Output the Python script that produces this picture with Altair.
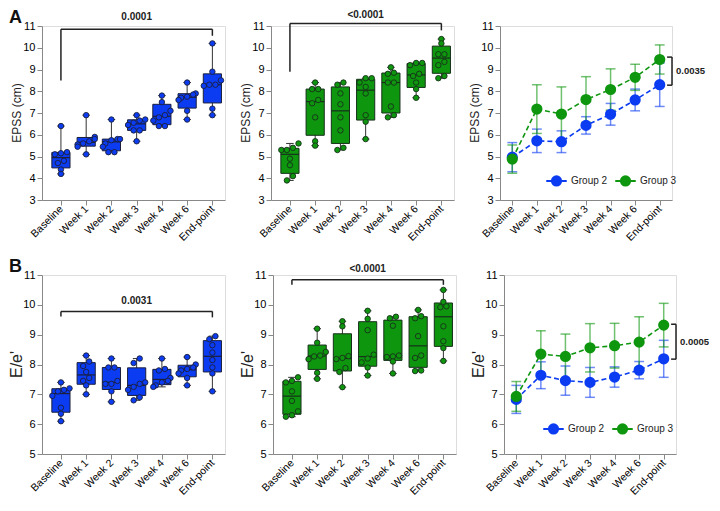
import json
import altair as alt
import numpy as np
import pandas as pd

cats = ["Baseline", "Week 1", "Week 2", "Week 3", "Week 4", "Week 6", "End-point"]

epss_g2 = [
    [6.4, 5.2, 5.15, 5.1, 4.8, 4.7, 4.4, 4.2],
    [6.9, 5.9, 5.8, 5.7, 5.6, 5.55, 5.45, 5.1],
    [6.7, 5.8, 5.8, 5.75, 5.6, 5.45, 5.2, 5.2],
    [6.9, 6.7, 6.65, 6.55, 6.45, 6.2, 6.2, 5.7],
    [7.8, 7.5, 7.1, 6.9, 6.8, 6.65, 6.4, 6.4],
    [8.4, 7.9, 7.85, 7.75, 7.7, 7.6, 7.1, 6.7],
    [10.2, 8.9, 8.5, 8.3, 8.3, 8.25, 7.2, 6.9],
]
epss_g3 = [
    [5.6, 5.4, 5.3, 5.3, 4.9, 4.6, 4.1, 3.9],
    [8.4, 8.1, 8.1, 7.6, 7.45, 6.8, 5.7, 5.5],
    [8.4, 8.3, 7.9, 7.4, 6.8, 6.2, 5.4, 5.3],
    [8.6, 8.6, 8.4, 8.2, 7.9, 6.9, 6.6, 5.8],
    [9.1, 8.85, 8.8, 8.4, 8.4, 7.3, 6.9, 6.8],
    [9.3, 9.3, 9.2, 8.8, 8.7, 8.4, 8.1, 7.7],
    [10.4, 10.2, 9.7, 9.7, 9.35, 9.2, 8.7, 8.6],
]
ee_g2 = [
    [7.4, 7.2, 7.15, 7.1, 6.95, 6.55, 6.35, 6.1],
    [8.3, 8.1, 7.95, 7.75, 7.55, 7.45, 7.3, 7.0],
    [8.2, 7.9, 7.9, 7.45, 7.35, 7.35, 7.1, 6.75],
    [8.2, 8.05, 7.4, 7.35, 7.25, 7.15, 6.9, 6.8],
    [8.2, 7.85, 7.8, 7.55, 7.45, 7.4, 7.3, 7.25],
    [8.25, 8.0, 7.9, 7.85, 7.8, 7.7, 7.55, 7.3],
    [8.95, 8.85, 8.65, 8.4, 8.15, 7.9, 7.7, 7.1],
]
ee_g3 = [
    [7.57, 7.45, 7.4, 7.1, 6.78, 6.43, 6.3, 6.25],
    [9.2, 8.73, 8.42, 8.3, 8.27, 8.18, 7.72, 7.52],
    [9.45, 9.28, 8.28, 8.22, 8.18, 7.88, 7.75, 7.24],
    [9.8, 9.53, 9.15, 8.33, 8.2, 8.07, 7.9, 7.63],
    [9.6, 9.55, 9.3, 8.3, 8.27, 8.25, 8.1, 7.7],
    [9.83, 9.62, 9.55, 8.95, 8.3, 8.22, 7.8, 7.78],
    [10.5, 10.1, 9.95, 9.92, 9.28, 8.78, 8.55, 8.12],
]

epss_g2_mean = [4.97, 5.72, 5.68, 6.43, 6.94, 7.60, 8.30]
epss_g2_sd = [0.67, 0.54, 0.50, 0.40, 0.50, 0.50, 1.00]
epss_g3_mean = [4.88, 7.18, 6.95, 7.62, 8.08, 8.64, 9.46]
epss_g3_sd = [0.65, 1.12, 1.25, 1.05, 0.95, 0.60, 0.67]
ee_g2_mean = [6.83, 7.64, 7.46, 7.40, 7.58, 7.81, 8.19]
ee_g2_sd = [0.47, 0.45, 0.49, 0.50, 0.34, 0.29, 0.62]
ee_g3_mean = [6.93, 8.35, 8.27, 8.56, 8.63, 8.75, 9.32]
ee_g3_sd = [0.50, 0.78, 0.75, 0.81, 0.75, 0.85, 0.73]

group_names = ["Group 2", "Group 3"]

brk_epss_g2 = ["0.0001", 10.85, 8.5, 10.55, 11.4]
brk_epss_g3 = ["<0.0001", 11.12, 8.9, 10.8, 11.5]
brk_ee_g2 = ["0.0031", 9.78, 9.61, 9.58, 10.13]
brk_ee_g3 = ["<0.0001", 10.84, 10.67, 10.67, 11.2]
brk_epss_line = ["0.0035", 9.57, 8.28]
brk_ee_line = ["0.0005", 9.35, 8.18]

BLUE = "#0b3cf2"
GREEN = "#0f960f"
DARK = "#1b1f3a"
DARKG = "#16301a"
AX = "#222222"
FONT = "Liberation Sans"

label_expr = json.dumps(cats) + "[datum.value]"


def jitter(vals, tol, step=0.24):
    vals = np.asarray(vals, dtype=float)
    order = np.argsort(vals)
    offs = np.zeros(len(vals))
    clusters, cur = [], [order[0]]
    for i in order[1:]:
        if vals[i] - vals[cur[-1]] < tol:
            cur.append(i)
        else:
            clusters.append(cur)
            cur = [i]
    clusters.append(cur)
    for c in clusters:
        k = len(c)
        for j, i in enumerate(c):
            offs[i] = (j - (k - 1) / 2) * step
    return np.clip(offs, -0.34, 0.34)


def axes(xdom, ydom):
    xs = alt.Scale(domain=xdom, nice=False, zero=False)
    ys = alt.Scale(domain=ydom, nice=False, zero=False)
    xa = alt.Axis(values=list(range(7)), labelExpr=label_expr, labelAngle=-45,
                  labelAlign="right", labelBaseline="middle", labelPadding=2,
                  labelOverlap=False, labelFontSize=10.5, title=None, grid=False,
                  minExtent=0)
    ya = alt.Axis(values=list(range(ydom[0], ydom[1] + 1)), format="d", grid=False,
                  labelFontSize=11, labelPadding=2, minExtent=0, title=None)
    X = lambda f: alt.X(f, type="quantitative", scale=xs, axis=xa)
    Y = lambda f: alt.Y(f, type="quantitative", scale=ys, axis=ya)
    return X, Y


def ytitle_layer(text, size, h):
    return alt.Chart(pd.DataFrame({"t": [text]})).mark_text(
        font=FONT, fontSize=size, color=AX, angle=270, align="center", baseline="middle"
    ).encode(x=alt.value(-25), y=alt.value(h / 2), text="t:N")


def box_panel(groups, fill, dark, ydom, ytitle, tsize, brk, letter, tol, w, h):
    X, Y = axes([-0.75, 6.5], ydom)
    rows = []
    for i, vals in enumerate(groups):
        offs = jitter(vals, tol)
        for v, o in zip(vals, offs):
            rows.append({"idx": i, "value": v, "off": float(o)})
    pts = pd.DataFrame(rows)
    st = []
    for i, vals in enumerate(groups):
        q1, med, q3 = np.percentile(vals, [25, 50, 75], method="weibull")
        st.append({"idx": i, "mn": min(vals), "mx": max(vals), "q1": q1, "med": med, "q3": q3})
    st = pd.DataFrame(st)
    base = alt.Chart(st).transform_calculate(
        lo="datum.idx - 0.36", hi="datum.idx + 0.36",
        clo="datum.idx - 0.15", chi="datum.idx + 0.15")
    whisk = base.mark_rule(color="#333333", strokeWidth=1).encode(x=X("idx"), y=Y("mn"), y2="mx")
    cap1 = base.mark_rule(color="#333333", strokeWidth=1).encode(x=X("clo"), x2="chi", y=Y("mn"))
    cap2 = base.mark_rule(color="#333333", strokeWidth=1).encode(x=X("clo"), x2="chi", y=Y("mx"))
    box = base.mark_rect(fill=fill, stroke=dark, strokeWidth=1).encode(x=X("lo"), x2="hi", y=Y("q1"), y2="q3")
    med = base.mark_rule(color=dark, strokeWidth=1.2).encode(x=X("lo"), x2="hi", y=Y("med"))
    dots = alt.Chart(pts).transform_calculate(xj="datum.idx + datum.off").mark_point(
        shape="circle", filled=True, fill=fill, stroke=dark, strokeWidth=0.9, size=30, opacity=1
    ).encode(x=X("xj"), y=Y("value"))
    bd = pd.DataFrame([{"x0": 0, "x1": 6, "xm": 3, "label": brk[0], "top": brk[1],
                        "lb": brk[2], "rb": brk[3], "ty": brk[4]}])
    bch = alt.Chart(bd)
    b1 = bch.mark_rule(color=AX, strokeWidth=1.5).encode(x=X("x0"), x2="x1", y=Y("top"))
    b2 = bch.mark_rule(color=AX, strokeWidth=1.5).encode(x=X("x0"), y=Y("lb"), y2="top")
    b3 = bch.mark_rule(color=AX, strokeWidth=1.5).encode(x=X("x1"), y=Y("rb"), y2="top")
    bt = bch.mark_text(font=FONT, fontSize=10, fontWeight="bold", color=AX).encode(
        x=X("xm"), y=Y("ty"), text="label:N")
    layers = [whisk, cap1, cap2, box, med, dots, b1, b2, b3, bt, ytitle_layer(ytitle, tsize, h)]
    if letter:
        lt = alt.Chart(pd.DataFrame({"t": [letter]})).mark_text(
            font=FONT, fontSize=18, fontWeight="bold", color="#111111", align="left", baseline="top"
        ).encode(x=alt.value(-33), y=alt.value(-17), text="t:N")
        layers.append(lt)
    return alt.layer(*layers).properties(width=w, height=h)


def line_panel(m2, s2, m3, s3, ydom, ytitle, tsize, brk, w, h, legx, legy):
    X, Y = axes([-0.5, 6.5], ydom)
    layers = []
    rows = []
    for name, m, s, col in [(group_names[0], m2, s2, BLUE), (group_names[1], m3, s3, GREEN)]:
        df = pd.DataFrame({"idx": list(range(7)), "mean": m, "sd": s})
        c = alt.Chart(df).transform_calculate(
            lo="datum.mean - datum.sd", hi="datum.mean + datum.sd",
            clo="datum.idx - 0.2", chi="datum.idx + 0.2")
        layers.append(c.mark_rule(color=col, strokeWidth=1.5, opacity=0.6).encode(x=X("idx"), y=Y("lo"), y2="hi"))
        layers.append(c.mark_rule(color=col, strokeWidth=1.5, opacity=0.6).encode(x=X("clo"), x2="chi", y=Y("lo")))
        layers.append(c.mark_rule(color=col, strokeWidth=1.5, opacity=0.6).encode(x=X("clo"), x2="chi", y=Y("hi")))
        layers.append(c.mark_line(color=col, strokeWidth=1.6, strokeDash=[5, 3]).encode(x=X("idx"), y=Y("mean")))
        for i in range(7):
            rows.append({"idx": i, "mean": m[i], "grp": name})
    pts = pd.DataFrame(rows)
    cs = alt.Scale(domain=group_names, range=[BLUE, GREEN])
    path = "M-1,0H-0.45M0.45,0H1M0.45,0A0.45,0.45,0,1,1,-0.45,0A0.45,0.45,0,1,1,0.45,0Z"
    leg = alt.Legend(orient="none", legendX=legx, legendY=legy, direction="horizontal", title=None,
                     symbolType=path, symbolSize=420, symbolStrokeWidth=2, labelFontSize=10,
                     labelFont=FONT, labelColor=AX, columnPadding=3, labelOffset=3)
    layers.append(alt.Chart(pts).mark_point(shape="circle", filled=True, size=85, opacity=1).encode(
        x=X("idx"), y=Y("mean"),
        fill=alt.Fill("grp:N", scale=cs, legend=leg),
        stroke=alt.Stroke("grp:N", scale=cs, legend=leg)))
    bd = pd.DataFrame([{"xa": 6.3, "xb": 6.5, "label": brk[0], "top": brk[1], "bot": brk[2],
                        "mid": (brk[1] + brk[2]) / 2}])
    bch = alt.Chart(bd)
    layers.append(bch.mark_rule(color=AX, strokeWidth=1.5).encode(x=X("xb"), y=Y("bot"), y2="top"))
    layers.append(bch.mark_rule(color=AX, strokeWidth=1.5).encode(x=X("xa"), x2="xb", y=Y("top")))
    layers.append(bch.mark_rule(color=AX, strokeWidth=1.5).encode(x=X("xa"), x2="xb", y=Y("bot")))
    layers.append(bch.mark_text(font=FONT, fontSize=9.5, fontWeight="bold", color=AX, align="left", dx=4).encode(
        x=X("xb"), y=Y("mid"), text="label:N"))
    layers.append(ytitle_layer(ytitle, tsize, h))
    return alt.layer(*layers).resolve_scale(fill="shared", stroke="shared").properties(width=w, height=h)


BW, LW = 183, 172
HA, HB = 174, 179

p1 = box_panel(epss_g2, BLUE, DARK, [3, 11], "EPSS (cm)", 12, brk_epss_g2, "A", 0.2, BW, HA)
p2 = box_panel(epss_g3, GREEN, DARKG, [3, 11], "EPSS (cm)", 12, brk_epss_g3, None, 0.2, BW, HA)
p3 = line_panel(epss_g2_mean, epss_g2_sd, epss_g3_mean, epss_g3_sd, [3, 11], "EPSS (cm)", 12,
                brk_epss_line, LW, HA, 45, 143)
p4 = box_panel(ee_g2, BLUE, DARK, [5, 11], "E/e'", 16, brk_ee_g2, "B", 0.15, BW, HB)
p5 = box_panel(ee_g3, GREEN, DARKG, [5, 11], "E/e'", 16, brk_ee_g3, None, 0.15, BW, HB)
p6 = line_panel(ee_g2_mean, ee_g2_sd, ee_g3_mean, ee_g3_sd, [5, 11], "E/e'", 16,
                brk_ee_line, LW, HB, 38, 142)

row1 = alt.hconcat(p1, p2, p3, spacing=13).resolve_scale(fill="independent", stroke="independent")
row2 = alt.hconcat(p4, p5, p6, spacing=13).resolve_scale(fill="independent", stroke="independent")

chart = alt.vconcat(row1, row2, spacing=13).resolve_scale(
    fill="independent", stroke="independent"
).properties(padding={"left": 0, "top": 0, "right": 0, "bottom": 0}).configure_view(
    stroke=None
).configure_axis(
    domainColor=AX, domainWidth=1.5, tickColor=AX, tickWidth=1.5, tickSize=4,
    labelFont=FONT, labelFontSize=11, labelColor=AX, titleFont=FONT, titleColor=AX,
    titleFontWeight="normal", grid=False
).configure(background="white")

chart.save("out.html", embed_options={"renderer": "svg", "actions": False})
